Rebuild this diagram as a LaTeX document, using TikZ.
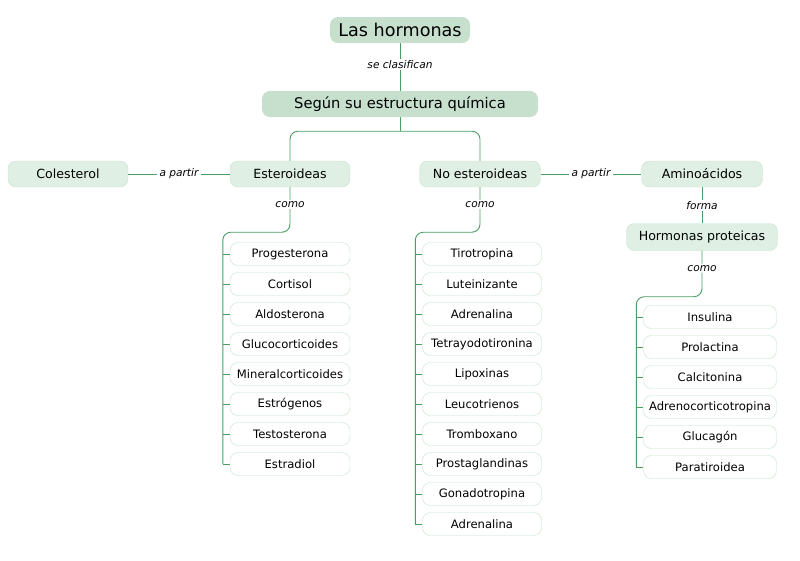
\documentclass[tikz,border=0pt]{standalone}
\usepackage{fontspec}
\setmainfont{DejaVu Sans}
\definecolor{linkgreen}{HTML}{4A9E64}
\definecolor{topfill}{HTML}{C6E0CD}
\definecolor{midfill}{HTML}{DFEFE3}
\definecolor{midline}{HTML}{C8E2CE}
\definecolor{leafline}{HTML}{C4E2CB}
\tikzset{
  box/.style={rounded corners=8pt, align=center, inner xsep=1pt, inner ysep=0pt},
  topbox/.style={box, fill=topfill, minimum height=26pt},
  midbox/.style={box, fill=midfill, draw=midline, minimum height=26pt, minimum width=120pt,
    font=\fontsize{12.6}{14}\selectfont},
  leaf/.style={box, fill=white, draw=leafline, minimum height=23pt,
    font=\fontsize{11.6}{13}\selectfont},
  lbl/.style={fill=white, inner xsep=3pt, inner ysep=1.5pt, font=\fontsize{10.6}{12}\itshape},
  link/.style={draw=linkgreen, line width=0.9pt}
}
\begin{document}
\begin{tikzpicture}[x=1pt,y=-1pt]
  \useasboundingbox (0,0) rectangle (800,560);
  \node[topbox, minimum width=140pt, font=\fontsize{17.6}{19}\selectfont] (horm) at (400,30) {Las hormonas};
  \node[topbox, minimum width=276pt, font=\fontsize{14.7}{16}\selectfont] (seg) at (400,104) {Según su estructura química};
  \node[midbox] (col) at (68,174) {Colesterol};
  \node[midbox] (est) at (290,174) {Esteroideas};
  \node[midbox, minimum width=121pt] (noest) at (480,174) {No esteroideas};
  \node[midbox, minimum width=121pt] (amino) at (702,174) {Aminoácidos};
  \node[midbox, minimum width=151pt, minimum height=27pt] (prot) at (702,237) {Hormonas proteicas};

  \draw[link] (horm) -- node[lbl, pos=0.45] {se clasifican} (seg);
  \draw[link] (seg.south) -- ++(0,14) coordinate (fork);
  \draw[link, rounded corners=8pt] (fork) -| (est.north);
  \draw[link, rounded corners=8pt] (fork) -| (noest.north);
  \draw[link] (col) -- node[lbl] {a partir} (est);
  \draw[link] (noest) -- node[lbl] {a partir} (amino);
  \draw[link] (amino) -- node[lbl] {forma} (prot);

  \foreach \name [count=\i] in {Progesterona,Cortisol,Aldosterona,Glucocorticoides,
      Mineralcorticoides,Estrógenos,Testosterona,Estradiol}
    \node[leaf, minimum width=120pt] (e\i) at (290,224+30*\i) {\name};
  \foreach \name [count=\i] in {Tirotropina,Luteinizante,Adrenalina,Tetrayodotironina,
      Lipoxinas,Leucotrienos,Tromboxano,Prostaglandinas,Gonadotropina,Adrenalina}
    \node[leaf, minimum width=119pt] (n\i) at (482,224+30*\i) {\name};
  \foreach \name [count=\i] in {Insulina,Prolactina,Calcitonina,Adrenocorticotropina,
      Glucagón,Paratiroidea}
    \node[leaf, minimum width=133pt] (p\i) at (710,287+30*\i) {\name};

  \draw[link, rounded corners=8pt] (est.south) -- node[lbl, pos=0.38] {como} ++(0,45)
    -| ([xshift=-7pt]e8.west);
  \draw[link, rounded corners=8pt] (noest.south) -- node[lbl, pos=0.38] {como} ++(0,45)
    -| ([xshift=-7pt]n10.west);
  \draw[link, rounded corners=8pt] (prot.south) -- node[lbl, pos=0.38] {como} ++(0,46)
    -| ([xshift=-7pt]p6.west);
  \foreach \i in {1,...,8} \draw[link] ([xshift=-7pt]e\i.west) -- (e\i.west);
  \foreach \i in {1,...,10} \draw[link] ([xshift=-7pt]n\i.west) -- (n\i.west);
  \foreach \i in {1,...,6} \draw[link] ([xshift=-7pt]p\i.west) -- (p\i.west);
\end{tikzpicture}
\end{document}
